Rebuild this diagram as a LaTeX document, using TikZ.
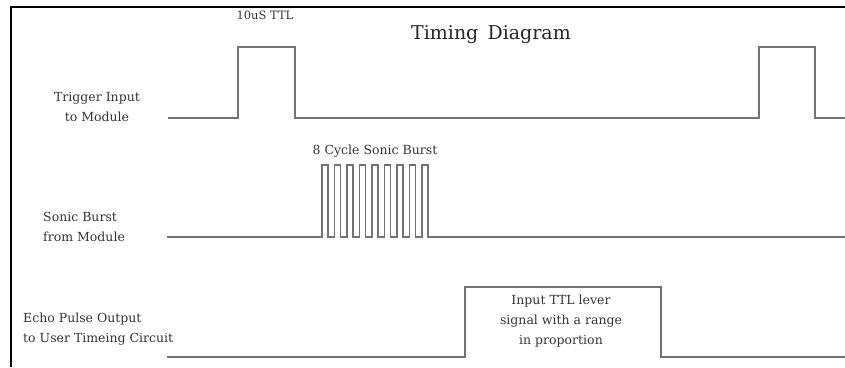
\documentclass[tikz,border=0pt]{standalone}
\usepackage{fontspec}
\setmainfont{DejaVu Serif}
\begin{document}
\begin{tikzpicture}[x=1pt,y=-1pt,
  sig/.style={draw=black!55, line width=1.5pt, line join=miter},
  frame/.style={draw=black, line width=2.2pt},
  lbl/.style={inner sep=0pt, text=black!80, font=\fontsize{12.5}{20}\selectfont},
  ttl/.style={inner sep=0pt, text=black!85, font=\fontsize{19}{22}\selectfont}]
\useasboundingbox (0,0) rectangle (845,367);
% frame
\draw[frame] (11,367) -- (11,7) -- (845,7);
% title and labels
\node[ttl] (title) at (491,35) {Timing\, Diagram};
\node[lbl, font=\fontsize{11.5}{14}\selectfont] (ttl10) at (265,15) {10uS TTL};
\node[lbl, align=center] (trig) at (97,106.5) {Trigger Input\\to Module};
\node[lbl, align=left, anchor=west] (sonic) at (43,227) {Sonic Burst\\from Module};
\node[lbl] (burst) at (375,151) {8 Cycle Sonic Burst};
\node[lbl, align=left, anchor=west] (echo) at (23,329) {Echo Pulse Output\\to User Timeing Circuit};
\node[lbl, align=center] (echotxt) at (561,321) {Input TTL lever\\signal with a range\\in proportion};
% trigger waveform
\draw[sig] (168,118) -- (238,118) -- (238,47) -- (295,47) -- (295,118) -- (759,118) -- (759,47) -- (815,47) -- (815,118) -- (845,118);
% sonic burst waveform
\def\bh{6.2}
\def\bp{12.5}
\draw[sig] (167,237) -- (322,237)
  \foreach \i in {0,...,8} { -- ({322+\i*\bp},237) -- ({322+\i*\bp},165) -- ({322+\i*\bp+\bh},165) -- ({322+\i*\bp+\bh},237) }
  -- (845,237);
% echo waveform
\draw[sig] (167,357) -- (465,357) -- (465,287) -- (661,287) -- (661,357) -- (845,357);
\end{tikzpicture}
\end{document}
